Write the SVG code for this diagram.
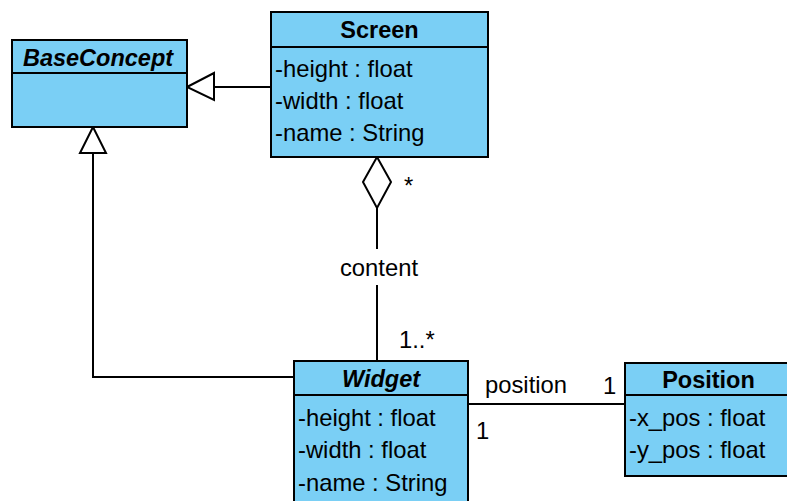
<svg xmlns="http://www.w3.org/2000/svg" width="787" height="501" viewBox="0 0 787 501">
  <style>
    .box { fill: #7acff5; stroke: #000; stroke-width: 2; }
    .sep { stroke: #000; stroke-width: 2; }
    .line { fill: none; stroke: #000; stroke-width: 2; }
    .head { fill: #fff; stroke: #000; stroke-width: 2; stroke-linejoin: miter; }
    text { font-family: "Liberation Sans", Arial, sans-serif; font-size: 23.8px; fill: #000; }
    .title { font-weight: bold; font-size: 23.5px; text-anchor: middle; }
    .abstract { font-weight: bold; font-style: italic; font-size: 23.5px; text-anchor: middle; }
  </style>
  <rect width="787" height="501" fill="#fff"/>

  <!-- connectors -->
  <g id="connectors">
    <!-- Screen generalizes BaseConcept -->
    <line class="line" x1="214" y1="87" x2="271" y2="87"/>
    <polygon class="head" points="187,87 214,73 214,100"/>
    <!-- Widget generalizes BaseConcept -->
    <polyline class="line" points="294,377 93,377 93,153"/>
    <polygon class="head" points="93,127 80,153 106,153"/>
    <!-- Screen aggregates Widget (content) -->
    <polygon class="head" points="377,157 391,182 377,208 363,182"/>
    <line class="line" x1="377" y1="208" x2="377" y2="249"/>
    <line class="line" x1="377" y1="285" x2="377" y2="361"/>
    <text x="379" y="276" text-anchor="middle">content</text>
    <text x="404" y="194">*</text>
    <text x="399" y="348">1..*</text>
    <!-- Widget to Position (position) -->
    <line class="line" x1="468" y1="404" x2="625" y2="404"/>
    <text x="485" y="393">position</text>
    <text x="603" y="394">1</text>
    <text x="476" y="439">1</text>
  </g>

  <!-- BaseConcept -->
  <g id="BaseConcept">
    <rect class="box" x="12" y="40" width="175" height="87"/>
    <line class="sep" x1="12" y1="73" x2="187" y2="73"/>
    <text class="abstract" x="98" y="66">BaseConcept</text>
  </g>

  <!-- Screen -->
  <g id="Screen">
    <rect class="box" x="271" y="12" width="217" height="145"/>
    <line class="sep" x1="271" y1="47" x2="488" y2="47"/>
    <text class="title" x="379.5" y="38">Screen</text>
    <text x="275" y="77">-height : float</text>
    <text x="275" y="109">-width : float</text>
    <text x="275" y="141">-name : String</text>
  </g>

  <!-- Widget -->
  <g id="Widget">
    <rect class="box" x="294" y="361" width="174" height="150"/>
    <line class="sep" x1="294" y1="395" x2="468" y2="395"/>
    <text class="abstract" x="381" y="387">Widget</text>
    <text x="298" y="426">-height : float</text>
    <text x="298" y="458">-width : float</text>
    <text x="298" y="491">-name : String</text>
  </g>

  <!-- Position -->
  <g id="Position">
    <rect class="box" x="625" y="363" width="167" height="113"/>
    <line class="sep" x1="625" y1="395" x2="792" y2="395"/>
    <text class="title" x="708.5" y="388">Position</text>
    <text x="629" y="426">-x_pos : float</text>
    <text x="629" y="458">-y_pos : float</text>
  </g>
</svg>
